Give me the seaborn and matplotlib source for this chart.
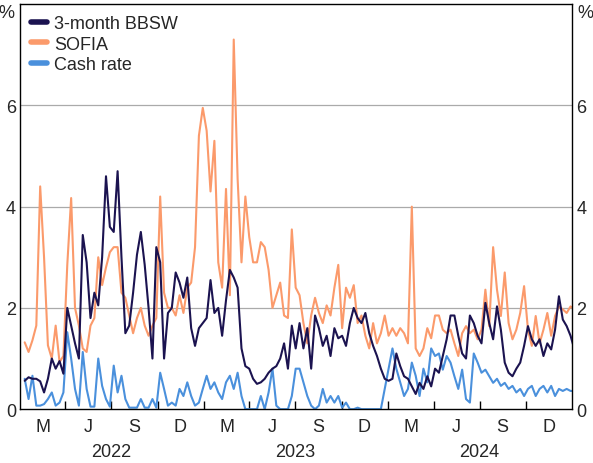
import pandas as pd
import numpy as np
import matplotlib
matplotlib.use("Agg")
import matplotlib.pyplot as plt
import seaborn as sns

# Weekly-ish readings, Jan 2022 to Jan 2025 (per cent)
bbsw = [0.56, 0.63, 0.6,
        0.6, 0.55, 0.33, 0.6, 1.0, 0.8, 0.95, 0.7, 2.0, 1.65, 1.3, 1.0,
        3.44, 2.9, 1.8, 2.3, 2.05, 3.0, 4.6, 3.6, 3.5, 4.7, 3.0, 1.5,
        1.65, 2.3, 3.05, 3.5, 2.85, 2.0, 1.0, 3.2, 2.9, 1.0, 1.9, 2.0,
        2.7, 2.5, 2.2, 2.6, 1.6, 1.25, 1.6, 1.7,
        1.8, 2.55, 1.9, 2.0, 1.45, 2.15, 2.75, 2.6, 2.4, 1.2, 0.85, 0.8,
        0.6, 0.5, 0.53, 0.6, 0.72, 0.8, 0.85, 1.0, 1.3, 0.8, 1.65, 1.2,
        1.7, 1.2, 1.6, 0.8, 1.85, 1.6, 1.25, 1.45, 1.05, 1.6, 1.4, 1.45,
        1.25, 1.7, 2.0, 1.8, 1.7, 1.9, 1.5, 1.25, 1.05, 0.8, 0.6, 0.56,
        0.6, 1.1, 0.85, 0.65, 0.6, 0.45, 0.3, 0.52, 0.4, 0.65, 0.45, 0.8,
        0.72, 1.05, 1.38, 1.85, 1.85, 1.45, 1.1, 1.0, 1.85, 1.7, 1.45, 1.3,
        2.1, 1.7, 1.38, 2.03, 1.57, 0.92, 0.72, 0.65, 0.8, 0.92, 1.25, 1.64,
        1.38, 1.25, 1.38, 1.05, 1.3, 1.18, 1.57, 2.23, 1.77, 1.64, 1.45, 1.18,
        0.52]
sofia = [1.32, 1.13, 1.36,
         1.65, 4.4, 3.0, 1.26, 1.0, 1.65, 0.93, 1.05, 2.85, 4.17, 2.0, 1.65,
         1.2, 1.13, 1.65, 1.8, 3.0, 2.45, 2.8, 3.1, 3.2, 3.2, 2.3, 2.2,
         1.85, 1.5, 1.8, 2.0, 1.65, 1.45, 1.65, 1.8, 4.2, 2.3, 2.0, 2.0,
         1.85, 2.25, 1.9, 2.4, 2.5, 3.2, 5.4, 5.95,
         5.5, 4.3, 5.3, 2.9, 2.4, 4.35, 2.25, 7.3, 4.55, 2.9, 4.2, 3.4,
         2.9, 2.9, 3.3, 3.2, 2.75, 2.0, 2.25, 2.5, 1.85, 1.8, 3.55, 2.4,
         2.25, 1.7, 1.3, 1.85, 2.2, 1.9, 1.7, 2.05, 1.85, 2.4, 2.85, 1.6,
         2.4, 2.2, 2.45, 1.7, 1.85, 1.45, 1.2, 1.7, 1.3, 1.5, 1.85, 1.45,
         1.6, 1.45, 1.6, 1.5, 1.3, 4.0, 1.2, 1.05, 1.2, 1.6, 1.4, 1.85,
         1.85, 1.57, 1.5, 1.57, 1.3, 1.05, 1.5, 1.64, 1.5, 1.57, 1.38, 1.57,
         2.36, 1.64, 3.2, 2.36, 1.84, 2.7, 1.7, 1.38, 1.57, 1.9, 2.43, 1.57,
         1.25, 1.84, 1.3, 1.57, 1.9, 1.45, 1.84, 2.03, 1.97, 1.9, 2.03, 1.97,
         1.9]
cash = [0.6, 0.2, 0.66,
        0.07, 0.07, 0.1, 0.2, 0.33, 0.07, 0.13, 0.33, 1.52, 1.0, 0.4, 0.07,
        1.13, 0.4, 0.05, 0.05, 1.0, 0.46, 0.2, 0.05, 0.86, 0.33, 0.66, 0.2,
        0.03, 0.03, 0.03, 0.2, 0.03, 0.03, 0.2, 0.03, 0.72, 0.4, 0.07, 0.13,
        0.07, 0.4, 0.26, 0.53, 0.26, 0.07, 0.13, 0.4,
        0.66, 0.4, 0.53, 0.33, 0.2, 0.53, 0.66, 0.4, 0.72, 0.26, 0.0, 0.0,
        0.0, 0.0, 0.26, 0.0, 0.33, 0.8, 0.07, 0.0, 0.0, 0.0, 0.26, 0.8,
        0.8, 0.53, 0.26, 0.07, 0.0, 0.07, 0.4, 0.13, 0.26, 0.13, 0.26, 0.03,
        0.13, 0.0, 0.0, 0.03, 0.0, 0.0, 0.0, 0.0, 0.0, 0.0, 0.4, 0.8,
        1.2, 0.8, 0.53, 0.26, 0.4, 0.92, 0.66, 0.26, 0.8, 0.53, 1.2, 1.05,
        1.1, 0.78, 1.05, 0.92, 0.65, 0.4, 0.78, 0.2, 0.13, 1.1, 0.92, 0.72,
        0.78, 0.65, 0.52, 0.6, 0.46, 0.52, 0.4, 0.46, 0.33, 0.4, 0.26, 0.4,
        0.46, 0.26, 0.4, 0.46, 0.33, 0.46, 0.26, 0.4, 0.36, 0.4, 0.36, 0.36,
        0.36]
dates = pd.date_range("2022-01-10", "2025-01-13", periods=len(bbsw))

series_names = ["3-month BBSW", "SOFIA", "Cash rate"]
colors = ["#1b1350", "#fb9a6b", "#4a90dc"]

df = pd.DataFrame({"date": dates, "3-month BBSW": bbsw, "SOFIA": sofia, "Cash rate": cash})
long = df.melt(id_vars="date", var_name="series", value_name="rate")

sns.set_style("white")
plt.rcParams["font.family"] = ["Liberation Sans", "DejaVu Sans"]

fig = plt.figure(figsize=(5.93, 4.64), dpi=100)
ax = fig.add_axes([0.034, 0.116, 0.931, 0.873])

# BBSW on top, cash underneath, like the original
for name, col, z in zip(series_names, colors, [3, 2, 1]):
    sub = long[long["series"] == name]
    sns.lineplot(data=sub, x="date", y="rate", color=col, lw=1.5, ax=ax, zorder=z, label=name)

ax.set_xlim(pd.Timestamp("2022-01-01"), pd.Timestamp("2025-01-01"))
ax.set_ylim(0, 8)
ax.set_xlabel("")
ax.set_ylabel("")

for y in [2, 4, 6]:
    ax.axhline(y, color="#aaaaaa", lw=0.9, zorder=0)

for s in ax.spines.values():
    s.set_color("black")
    s.set_linewidth(1.0)

# y labels on both sides
ax.set_yticks([0, 2, 4, 6])
ax.tick_params(axis="y", length=0, labelsize=13, pad=3, labelleft=True, labelright=True)
ax.text(-0.01, 1.0, "%", transform=ax.transAxes, ha="right", va="top", fontsize=13)
ax.text(1.01, 1.0, "%", transform=ax.transAxes, ha="left", va="top", fontsize=13)

# quarter ticks, labels centred in each quarter, years underneath
quarter_starts = pd.date_range("2022-04-01", "2024-10-01", freq="QS")
ax.set_xticks(quarter_starts)
ax.tick_params(axis="x", bottom=True, direction="in", length=6, width=1,
               color="black", labelbottom=False)
quarter_labels = ["M", "J", "S", "D"]
years = [2022, 2023, 2024]
for yr in years:
    for i, lab in enumerate(quarter_labels):
        mid = pd.Timestamp(yr, 1 + 3 * i, 1) + pd.Timedelta(days=45)
        ax.text(mid, -0.022, lab, ha="center", va="top", fontsize=13,
                transform=ax.get_xaxis_transform())
    ax.text(pd.Timestamp(yr, 7, 1), -0.083, str(yr), ha="center", va="top", fontsize=13,
            transform=ax.get_xaxis_transform())

leg = ax.legend(loc="upper left", frameon=False, fontsize=13, handlelength=0.9,
                handletextpad=0.4, labelspacing=0.2, borderaxespad=0.2)
for h in leg.get_lines():
    h.set_linewidth(4)

fig.savefig("out.png", dpi=100)
